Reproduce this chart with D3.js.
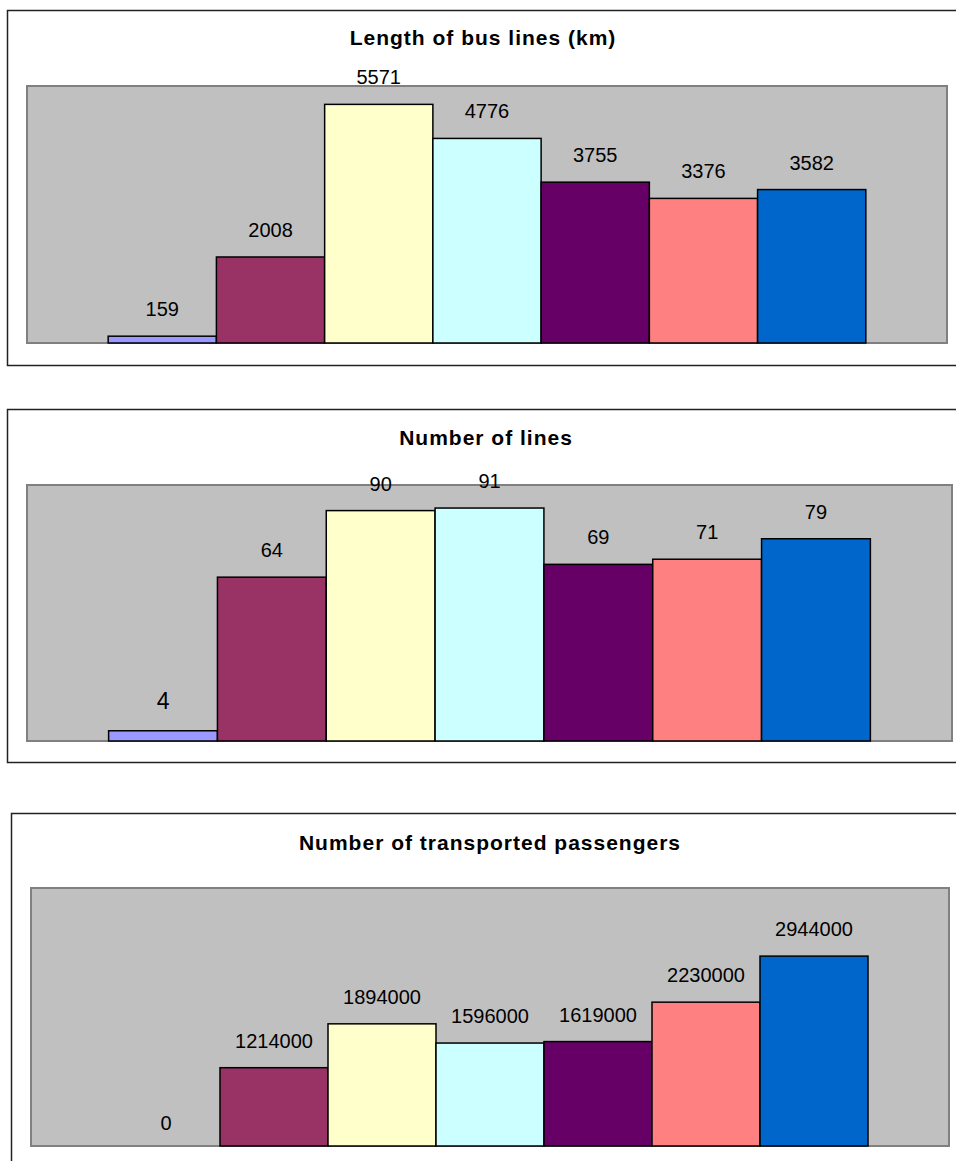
<!DOCTYPE html>
<html>
<head>
<meta charset="utf-8">
<script src="https://cdn.jsdelivr.net/npm/d3@7"></script>
<style>
  html, body { margin: 0; padding: 0; background: #fff; }
  svg { display: block; }
  text { font-family: "Liberation Sans", Arial, sans-serif; }
</style>
</head>
<body>
<svg id="chart" width="956" height="1161"></svg>
<script>
// Chart values
const titles = ["Length of bus lines (km)", "Number of lines", "Number of transported passengers"];
const seriesIndex = [0, 1, 2, 3, 4, 5, 6];
const lengthKm = [159, 2008, 5571, 4776, 3755, 3376, 3582];
const lineCount = [4, 64, 90, 91, 69, 71, 79];
const passengers = [0, 1214000, 1894000, 1596000, 1619000, 2230000, 2944000];
const axisMax = [6000, 100, 4000000];
const seriesColors = ["#9999FF", "#993366", "#FFFFCC", "#CCFFFF", "#660066", "#FF8080", "#0066CC"];

const panelValues = [lengthKm, lineCount, passengers];

// Frame and plot-area geometry for each panel
const layout = [
  { box: [7, 10, 970, 355], plot: [27, 86, 947, 343], titleX: 483, titleY: 45,
    labelSize: [20, 20, 20, 20, 20, 20, 20], labelGap: [20, 20, 20, 20, 20, 20, 20] },
  { box: [7, 409, 970, 353], plot: [27, 485, 952, 741], titleX: 486, titleY: 445,
    labelSize: [23, 20, 20, 20, 20, 20, 20], labelGap: [22, 20, 20, 20, 20, 20, 20] },
  { box: [11, 813, 970, 400], plot: [31, 888, 949, 1146], titleX: 490, titleY: 850,
    labelSize: [20, 20, 20, 20, 20, 20, 20], labelGap: [16, 20, 20, 20, 20, 20, 20] }
];

const svg = d3.select("#chart");

panelValues.forEach((values, p) => {
  const L = layout[p];
  const g = svg.append("g");

  // outer chart frame
  g.append("rect")
    .attr("x", L.box[0] + 0.5).attr("y", L.box[1] + 0.5)
    .attr("width", L.box[2]).attr("height", L.box[3])
    .attr("fill", "#fff").attr("stroke", "#222").attr("stroke-width", 1.5);

  // title
  g.append("text")
    .attr("x", L.titleX).attr("y", L.titleY)
    .attr("text-anchor", "middle")
    .attr("font-size", 21).attr("font-weight", "bold")
    .attr("letter-spacing", 1)
    .attr("fill", "#000")
    .text(titles[p]);

  const [x0, y0, x1, y1] = L.plot;

  // plot area
  g.append("rect")
    .attr("x", x0).attr("y", y0)
    .attr("width", x1 - x0).attr("height", y1 - y0)
    .attr("fill", "#C0C0C0").attr("stroke", "#808080").attr("stroke-width", 2);

  const x = d3.scaleBand()
    .domain(seriesIndex)
    .range([x0, x1])
    .paddingInner(0)
    .paddingOuter(0.75);

  const y = d3.scaleLinear()
    .domain([0, axisMax[p]])
    .range([y1, y0]);

  const data = seriesIndex.map(i => ({ i, v: values[i] }));

  g.selectAll("rect.bar")
    .data(data.filter(d => d.v > 0))
    .join("rect")
    .attr("class", "bar")
    .attr("x", d => x(d.i))
    .attr("y", d => y(d.v))
    .attr("width", x.bandwidth())
    .attr("height", d => y(0) - y(d.v))
    .attr("fill", d => seriesColors[d.i])
    .attr("stroke", "#000").attr("stroke-width", 1.5);

  g.selectAll("text.val")
    .data(data)
    .join("text")
    .attr("class", "val")
    .attr("x", d => x(d.i) + x.bandwidth() / 2)
    .attr("y", d => y(d.v) - L.labelGap[d.i])
    .attr("text-anchor", "middle")
    .attr("font-size", d => L.labelSize[d.i])
    .attr("fill", "#000")
    .text(d => d.v);
});
</script>
</body>
</html>
